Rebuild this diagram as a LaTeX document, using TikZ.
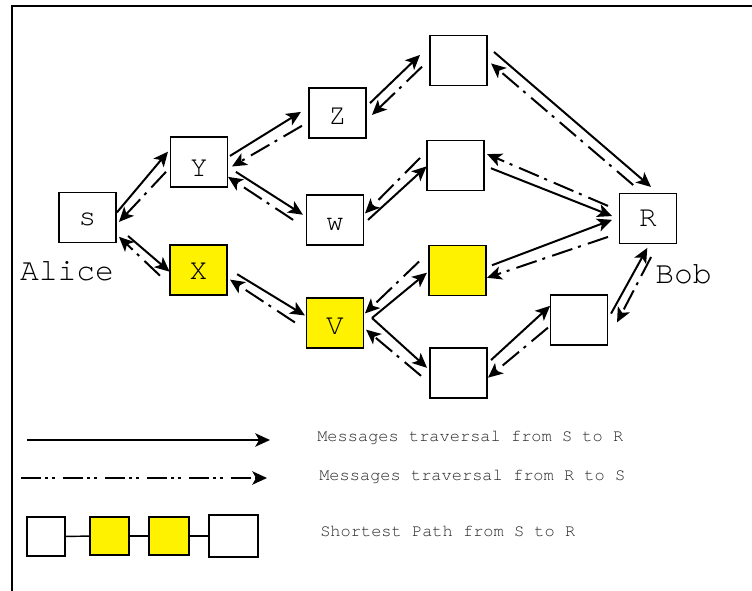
\documentclass[tikz,border=0pt]{standalone}
\usepackage{fontspec}
\setmonofont{TeX Gyre Cursor}
\usetikzlibrary{arrows.meta}
% letter set a little below the centre of its box
\newcommand\lowered[2]{\raisebox{-#1}[\height][\depth]{#2}}
\begin{document}
\begin{tikzpicture}[x=0.75pt,y=-0.75pt,
  box/.style={draw, line width=1.4pt, minimum width=42.75pt, minimum height=37.5pt,
    inner sep=0pt, outer sep=0pt, font=\ttfamily\fontsize{22}{24}\selectfont},
  hot/.style={fill=yellow},
  fwd/.style={line width=1.5pt, -{Stealth[length=11pt,width=10pt,inset=2.8pt]}},
  bwd/.style={fwd, dash pattern=on 16pt off 5.5pt on 2.25pt off 4.5pt},
  gaps/.style 2 args={shorten <=#1pt, shorten >=#2pt},
  person/.style={font=\ttfamily\fontsize{23.5}{26}\selectfont, inner sep=0pt},
  keytext/.style={anchor=west, inner sep=0pt, text=black!85,
    font=\ttfamily\fontsize{12.75}{14}\selectfont},
  keybox/.style={draw, line width=1.3pt, inner sep=0pt, outer sep=0pt},
]
\useasboundingbox (0,0) rectangle (752,591);

% frame
\draw[line width=1.5pt] (11.7,591) -- (11.7,6.3) -- (752,6.3);

% network nodes
\node[box] (s) at (87.5,217.5) {\lowered{1.5pt}{s}};
\node[box] (Y) at (199,162) {\lowered{4.5pt}{Y}};
\node[box, hot] (X) at (198.5,270) {\lowered{0.8pt}{X}};
\node[box] (Z) at (337.5,113) {\lowered{2.2pt}{Z}};
\node[box] (w) at (335,220) {\lowered{3pt}{w}};
\node[box, hot] (V) at (335,323) {\lowered{2.2pt}{V}};
\node[box] (t1) at (458.5,60.5) {};
\node[box] (t2) at (455.5,165.5) {};
\node[box, hot] (t3) at (457.5,270.5) {};
\node[box] (t4) at (458.5,373) {};
\node[box] (t5) at (579,320) {};
\node[box] (R) at (648,218.5) {R};

\node[person] (alice) at (67,271) {Alice};
\node[person] (bob) at (683.5,274) {Bob};

% messages from S to R
\draw[fwd, gaps={1.1}{2.9}]  (s.8.6)   -- (Y.155.6);
\draw[fwd, gaps={11.9}{0.4}] (s.-16.1) -- (X.184);
\draw[fwd, gaps={2.2}{7.1}]  (Y.9)     -- (Z.168.1);
\draw[fwd, gaps={7.5}{3.2}]  (Y.-9)    -- (w.174.4);
\draw[fwd, gaps={8.9}{1.4}]  (X.4.4)   -- (V.167.9);
\draw[fwd, gaps={8.3}{2.0}]  (V.-4)    -- (t3.181.8);
\draw[fwd, gaps={8.6}{3.0}]  (V.24)    -- (t4.175.4);
\draw[fwd, gaps={4.1}{10.4}] (Z.12.3)  -- (t1.152.1);
\draw[fwd, gaps={4.6}{0.4}]  (w.-8.2)  -- (t2.181);
\draw[fwd, gaps={6.9}{7.5}]  (t1.27)   -- (R.67);
\draw[fwd, gaps={5.6}{6.0}]  (t2.0.6)  -- (R.181);
\draw[fwd, gaps={4.8}{6.0}]  (t3.6.4)  -- (R.177.4);
\draw[fwd, gaps={4.1}{0.4}]  (t4.18.3) -- (t5.153.8);
\draw[fwd, gaps={5.5}{3.8}]  (t5.-0.8) -- (R.-86.8);

% messages from R to S
\draw[bwd, gaps={5.0}{3.3}]   (Y.190.3)  -- (s.-15.1);
\draw[bwd, gaps={10.4}{3.1}]  (X.208.5)  -- (s.-30.2);
\draw[bwd, gaps={6.1}{3.9}]   (Z.197.3)  -- (Y.-14.9);
\draw[bwd, gaps={12.0}{0.5}]  (w.197.3)  -- (Y.-27.3);
\draw[bwd, gaps={10.4}{2.7}]  (V.194.9)  -- (X.-15.7);
\draw[bwd, gaps={10.3}{1.5}]  (t3.147.9) -- (V.16.8);
\draw[bwd, gaps={8.8}{2.5}]   (t4.200.2) -- (V.-9.8);
\draw[bwd, gaps={8.3}{6.2}]   (t1.177.6) -- (Z.-15.3);
\draw[bwd, gaps={7.4}{1.6}]   (t2.153)   -- (w.10.9);
\draw[bwd, gaps={9.8}{4.0}]   (R.101.5)  -- (t1.1.8);
\draw[bwd, gaps={9.4}{2.5}]   (R.165.1)  -- (t2.24.2);
\draw[bwd, gaps={9.1}{0.8}]   (R.207.1)  -- (t3.-15.3);
\draw[bwd, gaps={2.5}{1.0}]   (t5.191.7) -- (t4.-11.5);
\draw[bwd, gaps={11.4}{15.5}] (R.-68.2)  -- (t5.-36.9);

% legend
\coordinate (k1a) at (27,440);
\coordinate (k1b) at (270,440);
\coordinate (k2a) at (21,478);
\coordinate (k2b) at (267,478);
\draw[fwd] (k1a) -- (k1b);
\draw[fwd, dash pattern=on 15pt off 3pt on 2.25pt off 3pt on 2.25pt off 6pt] (k2a) -- (k2b);

\node[keybox, minimum width=28.5pt, minimum height=29.25pt] (p1) at (46,536.5) {};
\node[keybox, hot, minimum width=29.25pt, minimum height=28.5pt] (p2) at (109.5,536) {};
\node[keybox, hot, minimum width=30pt, minimum height=28.5pt] (p3) at (169,536) {};
\node[keybox, minimum width=36.75pt, minimum height=31.5pt] (p4) at (233.5,536) {};
\draw[line width=1.1pt] (p1) -- (p2);
\draw[line width=1.1pt] (p2) -- (p3);
\draw[line width=1.1pt] (p3) -- (p4);

\node[keytext] (m1) at (317,438) {Messages traversal from S to R};
\node[keytext] (m2) at (319,477) {Messages traversal from R to S};
\node[keytext] (m3) at (320,531) {Shortest Path from S to R};
\end{tikzpicture}
\end{document}
